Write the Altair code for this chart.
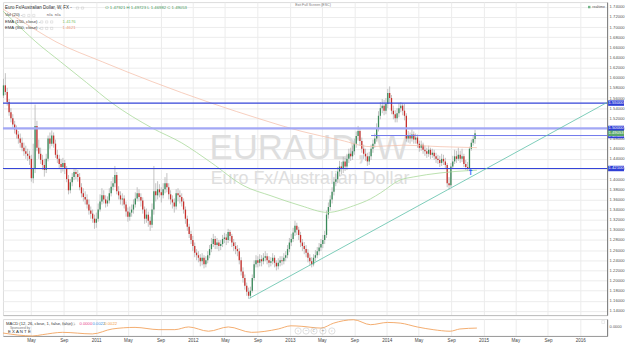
import altair as alt
import pandas as pd

# ------------------------------------------------------------------ data
first_open = 1.565
first_week = "2010-01-17"

closes = [
    # 2010
    1.585, 1.572, 1.552, 1.532, 1.520, 1.508, 1.498, 1.488, 1.480, 1.472,
    1.462, 1.455, 1.450, 1.446, 1.440, 1.402, 1.420, 1.505, 1.462, 1.450,
    1.438, 1.428, 1.418, 1.440, 1.480, 1.470, 1.486, 1.470, 1.448, 1.440,
    1.430, 1.424, 1.432, 1.420, 1.400, 1.378, 1.394, 1.404, 1.414, 1.410,
    1.404, 1.384, 1.372, 1.365, 1.360, 1.350, 1.338, 1.332, 1.322, 1.314,
    # 2011
    1.322, 1.340, 1.356, 1.368, 1.360, 1.352, 1.358, 1.372, 1.385, 1.392,
    1.408, 1.376, 1.368, 1.360, 1.362, 1.350, 1.336, 1.326, 1.334, 1.340,
    1.350, 1.362, 1.372, 1.365, 1.358, 1.340, 1.322, 1.330, 1.318, 1.310,
    1.340, 1.376, 1.368, 1.380, 1.374, 1.368, 1.380, 1.392, 1.384, 1.370,
    1.360, 1.354, 1.346, 1.372, 1.368, 1.365, 1.356, 1.340, 1.322, 1.306,
    1.292, 1.280,
    # 2012
    1.268, 1.255, 1.250, 1.245, 1.238, 1.245, 1.232, 1.240, 1.250, 1.262,
    1.272, 1.282, 1.270, 1.275, 1.268, 1.272, 1.282, 1.285, 1.280, 1.296,
    1.288, 1.275, 1.268, 1.262, 1.258, 1.240, 1.218, 1.205, 1.190, 1.178,
    1.170, 1.180, 1.205, 1.232, 1.240, 1.235, 1.242, 1.238, 1.245, 1.248,
    1.240, 1.235, 1.238, 1.245, 1.235, 1.228, 1.235, 1.240, 1.238, 1.245,
    1.250, 1.262,
    # 2013
    1.275, 1.282, 1.295, 1.308, 1.300, 1.290, 1.275, 1.268, 1.262, 1.255,
    1.245, 1.238, 1.232, 1.245, 1.250, 1.258, 1.265, 1.272, 1.280, 1.290,
    1.330, 1.345, 1.360, 1.375, 1.395, 1.400, 1.415, 1.425, 1.420, 1.435,
    1.425, 1.440, 1.450, 1.445, 1.455, 1.470, 1.485, 1.495, 1.475, 1.460,
    1.450, 1.445, 1.435, 1.445, 1.460, 1.470, 1.480, 1.500, 1.525, 1.540,
    1.545, 1.535,
    # 2014
    1.548, 1.570, 1.560, 1.535, 1.528, 1.520, 1.530, 1.540, 1.545, 1.535,
    1.525, 1.480, 1.485, 1.480, 1.488, 1.478, 1.482, 1.470, 1.462, 1.468,
    1.458, 1.455, 1.450, 1.458, 1.448, 1.452, 1.445, 1.440, 1.438, 1.432,
    1.440, 1.435, 1.428, 1.392, 1.388, 1.425, 1.435, 1.445, 1.440, 1.448,
    1.440, 1.445, 1.430, 1.424, 1.422, 1.460, 1.472, 1.4792, 1.49053,
]

highs = [
    1.598, 1.609, 1.580, 1.558, 1.540, 1.528, 1.515, 1.506, 1.495, 1.490,
    1.482, 1.472, 1.466, 1.460, 1.456, 1.448, 1.470, 1.547, 1.515, 1.478,
    1.462, 1.448, 1.440, 1.450, 1.486, 1.492, 1.496, 1.492, 1.478, 1.458,
    1.448, 1.440, 1.442, 1.438, 1.426, 1.408, 1.400, 1.412, 1.422, 1.420,
    1.418, 1.412, 1.392, 1.382, 1.376, 1.370, 1.360, 1.346, 1.340, 1.330,
    1.334, 1.352, 1.370, 1.382, 1.378, 1.368, 1.366, 1.382, 1.396, 1.404,
    1.426, 1.414, 1.386, 1.376, 1.372, 1.368, 1.356, 1.344, 1.346, 1.350,
    1.360, 1.374, 1.384, 1.380, 1.372, 1.364, 1.346, 1.342, 1.336, 1.326,
    1.352, 1.426, 1.392, 1.396, 1.390, 1.384, 1.392, 1.404, 1.412, 1.392,
    1.378, 1.368, 1.362, 1.380, 1.382, 1.378, 1.372, 1.362, 1.346, 1.328,
    1.312, 1.298,
    1.288, 1.275, 1.262, 1.258, 1.252, 1.254, 1.250, 1.248, 1.258, 1.270,
    1.284, 1.292, 1.288, 1.284, 1.280, 1.280, 1.290, 1.294, 1.292, 1.302,
    1.300, 1.292, 1.282, 1.276, 1.270, 1.264, 1.246, 1.226, 1.212, 1.196,
    1.186, 1.188, 1.212, 1.240, 1.250, 1.248, 1.252, 1.250, 1.254, 1.258,
    1.254, 1.248, 1.246, 1.254, 1.250, 1.240, 1.244, 1.248, 1.248, 1.254,
    1.258, 1.270,
    1.284, 1.292, 1.304, 1.318, 1.314, 1.306, 1.296, 1.282, 1.276, 1.270,
    1.262, 1.252, 1.246, 1.252, 1.260, 1.266, 1.274, 1.282, 1.290, 1.298,
    1.338, 1.354, 1.368, 1.384, 1.404, 1.412, 1.424, 1.436, 1.434, 1.444,
    1.442, 1.450, 1.460, 1.462, 1.466, 1.480, 1.494, 1.505, 1.500, 1.482,
    1.468, 1.460, 1.452, 1.454, 1.468, 1.478, 1.490, 1.510, 1.534, 1.552,
    1.558, 1.556,
    1.560, 1.578, 1.583, 1.566, 1.545, 1.536, 1.540, 1.550, 1.552, 1.550,
    1.548, 1.530, 1.495, 1.492, 1.498, 1.494, 1.490, 1.488, 1.476, 1.476,
    1.472, 1.466, 1.462, 1.466, 1.462, 1.460, 1.458, 1.452, 1.448, 1.446,
    1.450, 1.448, 1.442, 1.432, 1.404, 1.432, 1.446, 1.458, 1.456, 1.462,
    1.456, 1.460, 1.450, 1.438, 1.434, 1.464, 1.478, 1.486, 1.49723,
]

lows = [
    1.560, 1.566, 1.545, 1.525, 1.512, 1.500, 1.490, 1.480, 1.470, 1.462,
    1.455, 1.446, 1.440, 1.436, 1.428, 1.395, 1.392, 1.412, 1.455, 1.440,
    1.430, 1.418, 1.405, 1.412, 1.435, 1.460, 1.465, 1.462, 1.442, 1.432,
    1.420, 1.412, 1.415, 1.410, 1.394, 1.370, 1.372, 1.386, 1.398, 1.400,
    1.395, 1.378, 1.364, 1.356, 1.350, 1.342, 1.330, 1.322, 1.314, 1.302,
    1.304, 1.316, 1.336, 1.350, 1.352, 1.344, 1.346, 1.352, 1.366, 1.378,
    1.384, 1.370, 1.360, 1.350, 1.348, 1.342, 1.326, 1.316, 1.318, 1.326,
    1.332, 1.344, 1.356, 1.356, 1.346, 1.332, 1.312, 1.314, 1.306, 1.298,
    1.304, 1.330, 1.356, 1.360, 1.364, 1.354, 1.362, 1.372, 1.374, 1.360,
    1.350, 1.342, 1.334, 1.340, 1.356, 1.352, 1.346, 1.332, 1.312, 1.298,
    1.284, 1.272,
    1.258, 1.246, 1.240, 1.236, 1.228, 1.230, 1.224, 1.226, 1.234, 1.244,
    1.256, 1.266, 1.262, 1.262, 1.258, 1.260, 1.266, 1.274, 1.270, 1.274,
    1.278, 1.266, 1.258, 1.252, 1.248, 1.232, 1.210, 1.196, 1.182, 1.170,
    1.164, 1.165, 1.176, 1.200, 1.226, 1.226, 1.228, 1.228, 1.232, 1.238,
    1.232, 1.226, 1.228, 1.232, 1.226, 1.220, 1.222, 1.228, 1.230, 1.232,
    1.238, 1.244,
    1.256, 1.268, 1.276, 1.288, 1.290, 1.280, 1.266, 1.258, 1.252, 1.246,
    1.236, 1.230, 1.226, 1.228, 1.238, 1.244, 1.250, 1.258, 1.264, 1.272,
    1.284, 1.322, 1.338, 1.352, 1.368, 1.386, 1.392, 1.406, 1.410, 1.412,
    1.416, 1.418, 1.432, 1.436, 1.438, 1.448, 1.462, 1.476, 1.466, 1.452,
    1.440, 1.436, 1.426, 1.428, 1.438, 1.452, 1.462, 1.474, 1.494, 1.518,
    1.530, 1.526,
    1.528, 1.540, 1.550, 1.528, 1.518, 1.512, 1.512, 1.522, 1.532, 1.526,
    1.516, 1.474, 1.472, 1.470, 1.474, 1.470, 1.470, 1.462, 1.454, 1.456,
    1.450, 1.446, 1.442, 1.444, 1.440, 1.442, 1.438, 1.432, 1.430, 1.424,
    1.426, 1.428, 1.420, 1.384, 1.380, 1.384, 1.420, 1.430, 1.432, 1.436,
    1.432, 1.434, 1.424, 1.418, 1.416, 1.418, 1.456, 1.466, 1.46982,
]

ema150_dates = ["2010-01-15", "2010-03-31", "2010-05-19", "2010-08-20", "2010-11-26",
                "2011-03-03", "2011-07-31", "2011-11-20", "2012-03-11", "2012-07-12",
                "2012-10-22", "2013-02-12", "2013-05-23", "2013-08-29", "2013-11-01",
                "2013-12-09", "2014-02-21", "2014-04-11", "2014-07-21", "2014-11-11",
                "2014-12-07"]
ema150_vals = [1.7316, 1.6943, 1.6708, 1.6316, 1.5905,
               1.5499, 1.5009, 1.4715, 1.4323, 1.3867,
               1.3671, 1.3475, 1.3344, 1.3475, 1.3612,
               1.3730, 1.3985, 1.4043, 1.4122, 1.4170,
               1.4176]

ema300_dates = ["2010-01-15", "2010-05-20", "2010-08-03", "2011-01-24", "2011-07-31",
                "2012-03-11", "2012-09-14", "2013-02-12", "2013-07-12", "2013-11-01",
                "2014-03-05", "2014-07-21", "2014-12-07"]
ema300_vals = [1.7355, 1.6938, 1.6708, 1.6316, 1.5924,
               1.5499, 1.5180, 1.4945, 1.4768, 1.4641,
               1.4670, 1.4641, 1.4621]

macd_dates = ["2010-01-15", "2010-05-07", "2010-06-14", "2010-08-28", "2010-12-18",
              "2011-03-03", "2011-05-28", "2011-08-26", "2011-10-25", "2011-12-16",
              "2012-02-29", "2012-05-14", "2012-08-09", "2012-11-18", "2013-01-05",
              "2013-02-12", "2013-04-28", "2013-06-15", "2013-08-29", "2013-11-01",
              "2014-01-04", "2014-02-21", "2014-04-26", "2014-06-25", "2014-08-28",
              "2014-10-04", "2014-12-07"]
macd_vals = [-0.027, -0.040, -0.034, -0.024, -0.031,
             -0.009, -0.002, -0.012, -0.012, 0.000,
             -0.019, 0.000, -0.024, -0.009, 0.005,
             0.003, -0.005, 0.017, 0.032, 0.010,
             0.020, 0.017, 0.000, -0.012, -0.019,
             -0.009, -0.005]

level_kind = ["major", "band", "minor", "major"]
level_start = ["2010-01-15", "2010-01-15", "2013-11-03", "2010-01-15"]
level_end = ["2016-04-11", "2016-04-11", "2016-04-11", "2016-04-11"]
level_price = [1.5500, 1.5000, 1.4860, 1.4210]
level_text = ["1.55000", "1.50000", "1.48600", "1.42100"]

trend_dates = ["2012-08-01", "2016-04-11"]
trend_vals = [1.1650, 1.5513]

marker_date = ["2014-11-13"]
marker_val = [1.4130]

last_price = [1.49053]
last_text = ["1.49053"]

y_ticks = [1.14, 1.16, 1.18, 1.20, 1.22, 1.24, 1.26, 1.28, 1.30, 1.32, 1.34,
           1.36, 1.38, 1.40, 1.42, 1.44, 1.46, 1.48, 1.50, 1.52, 1.54, 1.56,
           1.58, 1.60, 1.62, 1.64, 1.66, 1.68, 1.70, 1.72, 1.74]
x_tick_months = [(2010, 5), (2010, 9), (2011, 1), (2011, 5), (2011, 9), (2012, 1),
                 (2012, 5), (2012, 9), (2013, 1), (2013, 5), (2013, 9), (2014, 1),
                 (2014, 5), (2014, 9), (2015, 1), (2015, 5), (2015, 9), (2016, 1)]

# ------------------------------------------------------------------ frames
dates = pd.date_range(first_week, periods=len(closes), freq="7D").strftime("%Y-%m-%d")
opens = [first_open] + closes[:-1]
candles = pd.DataFrame({"date": dates, "open": opens, "high": highs,
                        "low": lows, "close": closes})
candles["dir"] = ["up" if c >= o else "down" for o, c in zip(opens, closes)]

ema150 = pd.DataFrame({"date": ema150_dates, "v": ema150_vals})
ema300 = pd.DataFrame({"date": ema300_dates, "v": ema300_vals})
macd = pd.DataFrame({"date": macd_dates, "v": macd_vals})
levels = pd.DataFrame({"kind": level_kind, "start": level_start, "end": level_end,
                       "p": level_price, "t": level_text})
trend = pd.DataFrame({"date": trend_dates, "v": trend_vals})
marker = pd.DataFrame({"date": marker_date, "v": marker_val})
lastp = pd.DataFrame({"p": last_price, "t": last_text})

# ------------------------------------------------------------------ styles
FONT = "Liberation Sans"
UP, DOWN, WICK = "#3a8a5a", "#c9302c", "#a8a8a8"
GRID = "#ececec"
W, H_PRICE, H_MACD = 608, 315, 17
LEVEL_STYLE = {"major": ("#3544d8", 1.2), "band": ("#a3a8f5", 2.2), "minor": ("#6f77ec", 1.0)}

x_scale = alt.Scale(type="utc", domain=[alt.DateTime(year=2010, month=1, date=15, utc=True),
                                         alt.DateTime(year=2016, month=4, date=11, utc=True)])
tick_dt = [alt.DateTime(year=y, month=m, date=1, utc=True) for y, m in x_tick_months]
x_axis_price = alt.Axis(values=tick_dt, grid=True, gridColor=GRID, labels=False, ticks=False,
                        domain=True, domainColor="#bdbdbd", title=None)
y_scale = alt.Scale(domain=[1.1319, 1.7492], zero=False, nice=False)
y_axis = alt.Axis(orient="right", values=y_ticks, format=".5f", labelFontSize=4.2,
                  labelFont=FONT, labelColor="#555", labelPadding=2, ticks=False,
                  domain=True, domainColor="#777", grid=True, gridColor=GRID,
                  labelOverlap=False, title=None)

X = alt.X("date:T", scale=x_scale, axis=x_axis_price, title=None)


def Y(field):
    return alt.Y(field, scale=y_scale, axis=y_axis, title=None)


def txt(text, x, y, size=4.3, color="#333", align="left", weight="normal", font=FONT, opacity=1.0):
    return alt.Chart(alt.Data(values=[{}])).mark_text(
        text=text, align=align, baseline="middle", fontSize=size, color=color,
        font=font, fontWeight=weight, opacity=opacity
    ).encode(x=alt.value(x), y=alt.value(y))


def box(x, y, size=5, color="#bbb"):
    return alt.Chart(alt.Data(values=[{}])).mark_point(
        shape="square", size=size, filled=False, color=color, strokeWidth=0.5
    ).encode(x=alt.value(x), y=alt.value(y))


# ------------------------------------------------------------------ price panel
watermark = alt.layer(
    txt("EURAUD, W", 308, 147, size=35, color="#dedede", align="center"),
    txt("Euro Fx/Australian Dollar", 309, 178, size=18, color="#dedede", align="center"),
)

base = alt.Chart(candles).encode(x=X)
wicks = base.mark_rule(strokeWidth=0.7, color=WICK).encode(y=Y("low:Q"), y2="high:Q")
bodies_up = base.transform_filter(alt.datum.dir == "up").mark_rule(
    strokeWidth=1.3, color=UP).encode(y=Y("open:Q"), y2="close:Q")
bodies_down = base.transform_filter(alt.datum.dir == "down").mark_rule(
    strokeWidth=1.3, color=DOWN).encode(y=Y("open:Q"), y2="close:Q")

ema150_line = alt.Chart(ema150).mark_line(color="#a9d99a", strokeWidth=0.8, clip=True,
                                          interpolate="monotone").encode(x=X, y=Y("v:Q"))
ema300_line = alt.Chart(ema300).mark_line(color="#f5c2ae", strokeWidth=0.8, clip=True,
                                          interpolate="monotone").encode(x=X, y=Y("v:Q"))

level_layers = []
for kind, (col, sw) in LEVEL_STYLE.items():
    level_layers.append(
        alt.Chart(levels).transform_filter(alt.datum.kind == kind).mark_rule(
            color=col, strokeWidth=sw).encode(
            x=alt.X("start:T", scale=x_scale, axis=x_axis_price, title=None), x2="end:T",
            y=Y("p:Q"))
    )

trend_line = alt.Chart(trend).mark_line(color="#5cc0a8", strokeWidth=0.8, clip=True).encode(
    x=X, y=Y("v:Q"))

arrow = alt.Chart(marker).mark_text(text="↑", fontSize=8, fontWeight="bold", color="#2962ff",
                                    font="DejaVu Sans").encode(x=X, y=Y("v:Q"))

# right-axis price boxes
level_boxes = alt.Chart(levels).mark_tick(orient="horizontal", size=16, thickness=5.5,
                                          color="#2f3fd6", opacity=1).encode(
    x=alt.value(617), y=Y("p:Q"))
level_box_text = alt.Chart(levels).mark_text(fontSize=4.2, color="white", font=FONT,
                                             align="center", baseline="middle").encode(
    x=alt.value(617), y=Y("p:Q"), text="t:N")
last_box = alt.Chart(lastp).mark_tick(orient="horizontal", size=16, thickness=5.5,
                                      color="#5aa86a", opacity=1).encode(x=alt.value(617), y=Y("p:Q"))
last_box_text = alt.Chart(lastp).mark_text(fontSize=4.2, color="white", font=FONT,
                                           align="center", baseline="middle").encode(
    x=alt.value(617), y=Y("p:Q"), text="t:N")

header = alt.layer(
    txt("Euro Fx/Australian Dollar, W, FX -", 2, 6, size=4.5),
    box(75, 6), box(80, 6),
    txt("O 1.47921  H 1.49723  L 1.46982  C 1.49053", 103, 6, size=4.3, color="#4a9a5e"),
    txt("Vol (20) -", 2, 13.5, size=4.3),
    box(21, 13.5), box(26, 13.5), box(31, 13.5),
    txt("n/a", 44, 13.5, size=4.3, color="#666"),
    txt("n/a", 52, 13.5, size=4.3, color="#666"),
    txt("EMA (150, close) -", 2, 20, size=4.3),
    box(39, 20), box(44, 20), box(49, 20),
    txt("1.4176", 60, 20, size=4.3, color="#7cbf6a"),
    txt("EMA (300, close) -", 2, 26.5, size=4.3),
    box(39, 26.5), box(44, 26.5), box(49, 26.5),
    txt("1.4621", 60, 26.5, size=4.3, color="#ef9a7a"),
    txt("Exit Full Screen (ESC)", 312, 3, size=3.6, color="#777", align="center"),
    alt.Chart(alt.Data(values=[{}])).mark_point(shape="square", size=6, filled=True,
                                                color="#3c9a5a").encode(x=alt.value(590), y=alt.value(5)),
    txt("realtime", 593, 5, size=3.6, color="#555"),
)

price = alt.layer(
    watermark, wicks, bodies_up, bodies_down, ema300_line, ema150_line, *level_layers,
    trend_line, arrow, level_boxes, level_box_text, last_box, last_box_text, header,
).properties(width=W, height=H_PRICE)

# ------------------------------------------------------------------ MACD panel
x_axis_macd = alt.Axis(
    values=tick_dt, grid=True, gridColor=GRID, ticks=False, domain=True, domainColor="#999",
    labelFontSize=4.6, labelFont=FONT, labelColor="#444", labelPadding=2, title=None,
    labelExpr="utcFormat(datum.value, '%m') == '01' ? utcFormat(datum.value, '%Y') : utcFormat(datum.value, '%b')",
)
macd_y_axis = alt.Axis(orient="right", values=[0], format=".4f", labelFontSize=4, labelFont=FONT,
                       labelColor="#555", labelPadding=2, ticks=False, grid=False,
                       domainColor="#777", title=None)
macd_line = alt.Chart(macd).mark_line(color="#f2a35e", strokeWidth=0.9, interpolate="monotone").encode(
    x=alt.X("date:T", scale=x_scale, axis=x_axis_macd, title=None),
    y=alt.Y("v:Q", scale=alt.Scale(domain=[-0.04, 0.035], nice=False, zero=False),
            axis=macd_y_axis, title=None),
)

nav = alt.layer(*[
    alt.Chart(alt.Data(values=[{}])).mark_point(shape="circle", size=40, filled=False,
                                                color="#b5b5b5", strokeWidth=0.6
                                                ).encode(x=alt.value(px), y=alt.value(12))
    for px in (297, 305, 313, 322, 331)
], *[
    txt(g, px, 12, size=4, color="#999", align="center", font="DejaVu Sans")
    for g, px in (("‹", 297), ("−", 305), ("C", 313), ("+", 322), ("›", 331))
])

macd_header = alt.layer(
    txt("MACD (12, 26, close, 1, false, false) -", 3, 5, size=4.2),
    box(61, 5), box(66, 5), box(71, 5),
    txt("0.0000", 77, 5, size=4.2, color="#e8408a"),
    txt("0.0022", 90, 5, size=4.2, color="#3d8fe0"),
    txt("0.0022", 102, 5, size=4.2, color="#f39a3c"),
    txt("Sponsored by", 7, 8.5, size=3.3, color="#777"),
    txt("E X A N T E", 5, 12.8, size=4.4, color="#333"),
    box(604, 3, size=8, color="#c8c8c8"),
)

macd_panel = alt.layer(macd_line, nav, macd_header).properties(width=W, height=H_MACD)

chart = alt.vconcat(price, macd_panel, spacing=1).properties(
    padding={"left": 0, "top": 0, "right": 0, "bottom": 0}
).configure_view(strokeWidth=0).configure(background="white")

chart.save("out.html", embed_options={"renderer": "svg", "actions": False})
